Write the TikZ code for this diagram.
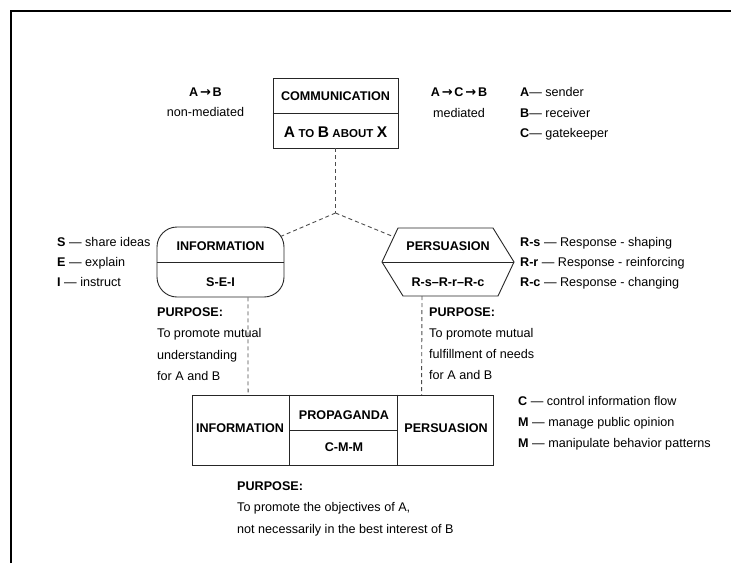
\documentclass[tikz,border=0pt]{standalone}
\usepackage{fontspec}
\setmainfont{Liberation Sans}
\newfontfamily\arrowfont{DejaVu Sans}
\usetikzlibrary{calc}

\newcommand{\toarrow}{\hspace{1.8pt}{\arrowfont\fontsize{13}{15}\selectfont\bfseries →}\hspace{1.8pt}}

\tikzset{
  txt/.style={inner sep=0pt, font=\fontsize{12.6}{20.5}\selectfont},
  head/.style={txt, font=\fontsize{12.6}{20.5}\selectfont\bfseries},
  para/.style={txt, align=left, anchor=north west, font=\fontsize{12.6}{21.3}\selectfont},
  frame/.style={draw, line width=0.9pt, black!85},
  link/.style={line width=0.9pt, black!70, dash pattern=on 4pt off 3pt},
}

\begin{document}
\begin{tikzpicture}[x=1pt, y=-1pt]
    \useasboundingbox (0,0) rectangle (731,563);
    \draw[line width=2pt] (11,563) -- (11,11) -- (731,11);

    \node[frame, minimum width=125pt, minimum height=70pt] (comm) at (335.5,113) {};
    \draw[frame] (comm.west) -- (comm.east);
    \node[head, anchor=base] (commtitle) at (335.5,100) {COMMUNICATION};
    \node[head, anchor=base] (commtext) at (335.5,137.5) {{\fontsize{15.5}{15}\selectfont A} {\fontsize{11.5}{15}\selectfont TO} {\fontsize{15.5}{15}\selectfont B} {\fontsize{11.5}{15}\selectfont ABOUT} {\fontsize{15.5}{15}\selectfont X}};

    \node[txt, align=center, anchor=north] (direct) at (205.5,87.5) {\textbf{A\toarrow B}\\non-mediated};
    \node[txt, align=center, anchor=north] (mediated) at (459,87.5) {\textbf{A\toarrow C\toarrow B}\\mediated};
    \node[txt, align=left, anchor=north west] (legcomm) at (520,87.5) {\textbf{A}— sender\\\textbf{B}— receiver\\\textbf{C}— gatekeeper};

    \node[frame, rounded corners=20pt, minimum width=127pt, minimum height=70pt] (info) at (220.5,262) {};
    \draw[frame] (info.west) -- (info.east);
    \node[head, anchor=base] (infotitle) at (220.5,250.5) {INFORMATION};
    \node[head, anchor=base] (infotext) at (220.5,286.5) {S-E-I};
    \node[txt, align=left, anchor=north west, font=\fontsize{12.6}{20}\selectfont] (leginfo) at (57,237.5) {\textbf{S} — share ideas\\\textbf{E} — explain\\\textbf{I} — instruct};

    \coordinate (pers) at (448,262);
    \draw[frame] ($(pers)+(-66,0)$) coordinate (pw) -- ++(16,-34) coordinate (pnw) -- ++(95,0)
        -- ($(pers)+(66,0)$) coordinate (pe) -- ++(-16,34) -- ++(-95,0) -- cycle;
    \draw[frame] (pw) -- (pe);
    \node[head, anchor=base] (perstitle) at (448,250.5) {PERSUASION};
    \node[head, anchor=base] (perstext) at (448,286.5) {R-s–R-r–R-c};
    \node[txt, align=left, anchor=north west, font=\fontsize{12.6}{20}\selectfont] (legpers) at (520,237.5) {\textbf{R-s} — Response - shaping\\\textbf{R-r} — Response - reinforcing\\\textbf{R-c} — Response - changing};

    \coordinate (fork) at (335.5,213);
    \draw[link] (comm.south) -- (fork);
    \draw[link] (fork) -- ($(info.north east)+(-4,10)$);
    \draw[link] (fork) -- ($(pw)!0.74!(pnw)$);

    \node[para] (infopurpose) at (157,307.5) {\textbf{PURPOSE:}\\To promote mutual\\understanding\\for A and B};
    \node[para] (perspurpose) at (429,307) {\textbf{PURPOSE:}\\To promote mutual\\fulfillment of needs\\for A and B};

    \node[frame, minimum width=301pt, minimum height=70pt] (prop) at (342.5,430) {};
    \draw[frame] ($(prop.north west)+(97.5,0)$) -- ($(prop.south west)+(97.5,0)$);
    \draw[frame] ($(prop.north west)+(205.5,0)$) -- ($(prop.south west)+(205.5,0)$);
    \draw[frame] ($(prop.west)+(97.5,0)$) -- ($(prop.west)+(205.5,0)$);
    \node[head, anchor=base] (propinfo) at (240,432.5) {INFORMATION};
    \node[head, anchor=base] (proptitle) at (344,419.5) {PROPAGANDA};
    \node[head, anchor=base] (proptext) at (344,451.5) {C-M-M};
    \node[head, anchor=base] (proppers) at (446,432.5) {PERSUASION};
    \node[txt, align=left, anchor=north west, font=\fontsize{12.6}{21}\selectfont] (legprop) at (518,396.5) {\textbf{C} — control information flow\\\textbf{M} — manage public opinion\\\textbf{M} — manipulate behavior patterns};

    \draw[link] ($(info.south)+(27.5,0)$) -- ($(prop.north west)+(56.5,0)$);
    \draw[link] ($(pers)+(-26,34)$) -- ($(prop.north west)+(230,0)$);

    \node[para] (proppurpose) at (237,481.5) {\textbf{PURPOSE:}\\To promote the objectives of A,\\not necessarily in the best interest of B};
\end{tikzpicture}
\end{document}
